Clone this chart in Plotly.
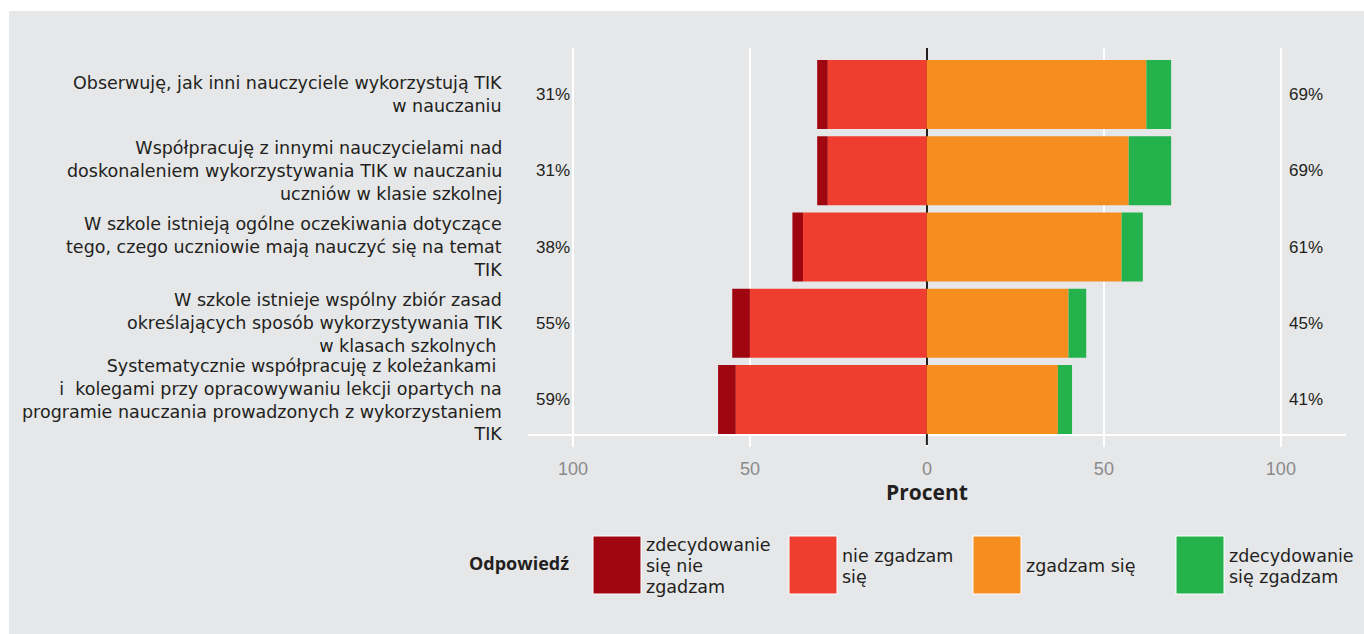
import plotly.graph_objects as go

# Survey statements (top to bottom)
statements = [
    "Obserwuję, jak inni nauczyciele wykorzystują TIK<br>w nauczaniu",
    "Współpracuję z innymi nauczycielami nad<br>doskonaleniem wykorzystywania TIK w nauczaniu<br>uczniów w klasie szkolnej",
    "W szkole istnieją ogólne oczekiwania dotyczące<br>tego, czego uczniowie mają nauczyć się na temat<br>TIK",
    "W szkole istnieje wspólny zbiór zasad<br>określających sposób wykorzystywania TIK<br>w klasach szkolnych\u00a0",
    "Systematycznie współpracuję z koleżankami\u00a0<br>i\u00a0 kolegami przy opracowywaniu lekcji opartych na<br>programie nauczania prowadzonych z wykorzystaniem<br>TIK",
]

# Answer shares in percent
strongly_disagree = [3, 3, 3, 5, 5]
disagree = [28, 28, 35, 50, 54]
agree = [62, 57, 55, 40, 37]
strongly_agree = [7, 12, 6, 5, 4]

answer_labels = [
    "zdecydowanie<br>się nie<br>zgadzam",
    "nie zgadzam<br>się",
    "zgadzam się",
    "zdecydowanie<br>się zgadzam",
]
answer_colors = ["#a00610", "#ef3e2f", "#f68e1f", "#23b24c"]

tick_values = [-100, -50, 0, 50, 100]
tick_labels = ["100", "50", "0", "50", "100"]

BG = "#e6e7e9"
INK = "#231f20"
SANS = "Liberation Sans, Arial, sans-serif"
WIDE = "DejaVu Sans, Verdana, sans-serif"
BOLD = "Open Sans, sans-serif"
W, H = 1364, 634
ML, MR, MT, MB = 528, 18, 48, 200
PW, PH = W - ML - MR, H - MT - MB


def px_x(px):
    return (px - ML) / PW


def px_y(py):
    return (H - MB - py) / PH


fig = go.Figure()

# disagree side: lighter red sits next to zero, dark red further out
series = [
    (answer_labels[1], [-v for v in disagree], answer_colors[1]),
    (answer_labels[0], [-v for v in strongly_disagree], answer_colors[0]),
    (answer_labels[2], agree, answer_colors[2]),
    (answer_labels[3], strongly_agree, answer_colors[3]),
]
for name, vals, color in series:
    fig.add_trace(go.Bar(
        y=statements, x=vals, orientation="h", name=name.replace("<br>", " "),
        marker=dict(color=color, line=dict(width=0)), showlegend=False,
    ))

fig.update_layout(
    width=W, height=H,
    margin=dict(l=ML, r=MR, t=MT, b=MB, pad=0),
    paper_bgcolor="white", plot_bgcolor=BG,
    barmode="relative", bargap=0.095,
    font=dict(family=SANS, color=INK, size=17),
    xaxis=dict(
        range=[-112.7, 118.4], tickvals=tick_values, ticktext=tick_labels,
        showgrid=True, gridcolor="white", gridwidth=2,
        zeroline=True, zerolinecolor=INK, zerolinewidth=2,
        showline=True, linecolor="white", linewidth=2,
        ticks="outside", ticklen=11, tickwidth=2, tickcolor="white",
        tickfont=dict(size=18, color="#8a8a8a"), ticklabelstandoff=6,
    ),
    yaxis=dict(
        categoryorder="array", categoryarray=statements[::-1],
        range=[-0.4525, 4.61], showgrid=False, zeroline=False,
        showticklabels=False, ticks="",
    ),
)

shapes = [
    # gray panel behind the chart
    dict(type="rect", xref="paper", yref="paper", layer="below",
         x0=px_x(9), x1=px_x(W + 5), y0=px_y(H + 5), y1=px_y(11),
         fillcolor=BG, line=dict(width=0)),
    # zero line continues below the axis as a tick
    dict(type="line", xref="x", yref="paper", x0=0, x1=0,
         y0=px_y(445), y1=0, line=dict(color=INK, width=2), layer="above"),
]

annotations = [
    # axis title, centred on zero
    dict(xref="x", yref="paper", x=0, y=px_y(492), xanchor="center",
         yanchor="middle", text="<b>Procent</b>", showarrow=False,
         font=dict(family=BOLD, size=21, color=INK)),
]
for i, s in enumerate(statements):
    annotations.append(dict(
        xref="paper", yref="y", x=0, y=s, xshift=-24, xanchor="right",
        align="right", text=s, showarrow=False,
        font=dict(family=WIDE, size=17.5, color=INK)))
    left_total = strongly_disagree[i] + disagree[i]
    right_total = agree[i] + strongly_agree[i]
    annotations.append(dict(
        xref="x", yref="y", x=-100, y=s, xshift=-1, xanchor="right",
        text=f"{left_total}%", showarrow=False, font=dict(size=17, color=INK)))
    annotations.append(dict(
        xref="x", yref="y", x=100, y=s, xshift=6, xanchor="left",
        text=f"{right_total}%", showarrow=False, font=dict(size=17, color=INK)))

# legend drawn by hand: title, swatches and wrapped labels
annotations.append(dict(
    xref="paper", yref="paper", x=px_x(571), y=px_y(563), xanchor="right",
    yanchor="middle", text="<b>Odpowiedź</b>", showarrow=False,
    font=dict(family=BOLD, size=18, color=INK)))

swatch_left = [593, 789, 973, 1176]
line_gap = 21
for label, color, x0 in zip(answer_labels, answer_colors, swatch_left):
    shapes.append(dict(
        type="rect", xref="paper", yref="paper",
        x0=px_x(x0), x1=px_x(x0 + 48), y0=px_y(594), y1=px_y(536),
        fillcolor=color, line=dict(color="white", width=1)))
    lines = label.split("<br>")
    first = 566 - (len(lines) - 1) * line_gap / 2
    for k, ln in enumerate(lines):
        annotations.append(dict(
            xref="paper", yref="paper", x=px_x(x0 + 51), y=px_y(first + k * line_gap),
            xanchor="left", yanchor="middle", text=ln, showarrow=False,
            font=dict(family=WIDE, size=17.5, color=INK)))

fig.update_layout(shapes=shapes, annotations=annotations)
fig.write_html("out.html")
